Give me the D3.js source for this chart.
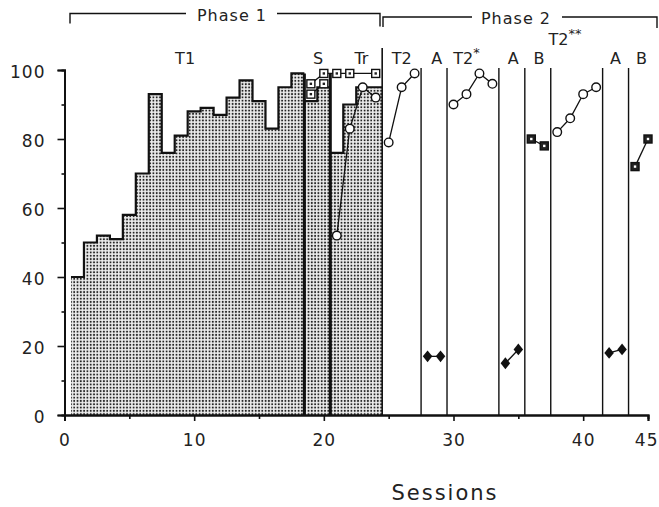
<!DOCTYPE html>
<html>
<head>
<meta charset="UTF-8">
<script src="https://d3js.org/d3.v7.min.js"></script>
<style>
  body { margin: 0; background: #fff; }
  svg text { font-family: "DejaVu Sans", sans-serif; fill: #222; }
</style>
</head>
<body>
<div id="chart"></div>
<script>
// stippled histogram, one bar per session
var t1Sessions = [1, 2, 3, 4, 5, 6, 7, 8, 9, 10, 11, 12, 13, 14, 15, 16, 17, 18];
var t1Values   = [40, 50, 52, 51, 58, 70, 93, 76, 81, 88, 89, 87, 92, 97, 91, 83, 95, 99];
var sSessions  = [19, 20];
var sValues    = [91, 95];
var trSessions = [21, 22, 23, 24];
var trValues   = [76, 90, 95, 95];

// marker series, split by condition
var circleRuns = [
  { x: [21, 22, 23, 24], y: [52, 83, 95, 92] },
  { x: [25, 26, 27], y: [79, 95, 99] },
  { x: [30, 31, 32, 33], y: [90, 93, 99, 96] },
  { x: [38, 39, 40, 41], y: [82, 86, 93, 95] }
];
var diamondRuns = [
  { x: [28, 29], y: [17, 17] },
  { x: [34, 35], y: [15, 19] },
  { x: [42, 43], y: [18, 19] }
];
var squareRuns = [
  { x: [19, 20, 21, 22, 24], y: [96, 99, 99, 99, 99], dark: false },
  { x: [19, 20], y: [93, 96], dark: false },
  { x: [36, 37], y: [80, 78], dark: true },
  { x: [44, 45], y: [72, 80], dark: true }
];

var thickLines = [18.5, 20.5];
var phaseLine = 24.5;
var condLines = [27.5, 29.5, 33.5, 35.5, 37.5, 41.5, 43.5];

var condNames = ["T1", "S", "Tr", "T2", "A", "T2", "A", "B", "T2", "A", "B"];
var condMarks = ["", "", "", "", "", "*", "", "", "**", "", ""];
var condAt    = [9.3, 19.55, 22.9, 26.0, 28.7, 31.0, 34.6, 36.6, 38.6, 42.5, 44.5];

var xTicks = [0, 10, 20, 30, 40, 45];
var xMinor = [5, 15, 25, 35];
var yTicks = [0, 20, 40, 60, 80, 100];
var yMinor = [10, 30, 50, 70, 90];

var width = 659, height = 507;
var svg = d3.select("#chart").append("svg")
  .attr("width", width).attr("height", height);

var x = d3.scaleLinear().domain([0, 45]).range([64.5, 648]);
var y = d3.scaleLinear().domain([0, 100]).range([415, 70]);

var defs = svg.append("defs");
var pat = defs.append("pattern").attr("id", "dots")
  .attr("patternUnits", "userSpaceOnUse")
  .attr("width", 3.3).attr("height", 3.3);
pat.append("rect").attr("width", 3.3).attr("height", 3.3).attr("fill", "#ececec");
pat.append("circle").attr("cx", 1.6).attr("cy", 1.6).attr("r", 1.0).attr("fill", "#222");

function stepPoints(sessions, values) {
  var pts = sessions.map(function (s, i) { return [Math.max(0, s - 0.5), values[i]]; });
  pts.push([sessions[sessions.length - 1] + 0.5, values[values.length - 1]]);
  return pts;
}

var area = d3.area().curve(d3.curveStepAfter)
  .x(function (d) { return x(d[0]); })
  .y0(y(0)).y1(function (d) { return y(d[1]); });
var stepLine = d3.line().curve(d3.curveStepAfter)
  .x(function (d) { return x(d[0]); })
  .y(function (d) { return y(d[1]); });

[[t1Sessions, t1Values], [sSessions, sValues], [trSessions, trValues]].forEach(function (b) {
  var pts = stepPoints(b[0], b[1]);
  svg.append("path").attr("d", area(pts)).attr("fill", "url(#dots)");
  svg.append("path").attr("d", stepLine(pts))
    .attr("fill", "none").attr("stroke", "#111").attr("stroke-width", 2.2);
});

// condition lines
thickLines.forEach(function (v) {
  svg.append("line").attr("x1", x(v)).attr("x2", x(v))
    .attr("y1", y(0)).attr("y2", y(99))
    .attr("stroke", "#111").attr("stroke-width", 3);
});
svg.append("line").attr("x1", x(phaseLine)).attr("x2", x(phaseLine))
  .attr("y1", y(0)).attr("y2", 48)
  .attr("stroke", "#111").attr("stroke-width", 1.6);
condLines.forEach(function (v) {
  svg.append("line").attr("x1", x(v)).attr("x2", x(v))
    .attr("y1", y(0)).attr("y2", 68)
    .attr("stroke", "#111").attr("stroke-width", 1.4);
});

function zipRun(r) { return r.x.map(function (v, i) { return [v, r.y[i]]; }); }
var link = d3.line().x(function (d) { return x(d[0]); }).y(function (d) { return y(d[1]); });

circleRuns.concat(diamondRuns).concat(squareRuns).forEach(function (r) {
  svg.append("path").attr("d", link(zipRun(r)))
    .attr("fill", "none").attr("stroke", "#111").attr("stroke-width", 1.3);
});

squareRuns.forEach(function (r) {
  var g = svg.append("g").selectAll("g").data(zipRun(r)).enter().append("g")
    .attr("transform", function (d) { return "translate(" + x(d[0]) + "," + y(d[1]) + ")"; });
  g.append("rect").attr("x", -4).attr("y", -4).attr("width", 8).attr("height", 8)
    .attr("fill", r.dark ? "#222" : "#fff").attr("stroke", "#111").attr("stroke-width", 1.4);
  g.append("rect").attr("x", -1.2).attr("y", -1.2).attr("width", 2.4).attr("height", 2.4)
    .attr("fill", r.dark ? "#fff" : "#222");
});

circleRuns.forEach(function (r) {
  svg.append("g").selectAll("circle").data(zipRun(r)).enter().append("circle")
    .attr("cx", function (d) { return x(d[0]); })
    .attr("cy", function (d) { return y(d[1]); })
    .attr("r", 4.3).attr("fill", "#fff").attr("stroke", "#111").attr("stroke-width", 1.4);
});

var diamond = d3.symbol().type(d3.symbolDiamond).size(40);
diamondRuns.forEach(function (r) {
  svg.append("g").selectAll("path").data(zipRun(r)).enter().append("path")
    .attr("d", diamond)
    .attr("transform", function (d) { return "translate(" + x(d[0]) + "," + y(d[1]) + ") scale(1.4,1)"; })
    .attr("fill", "#111");
});

// axes
var yAxis = svg.append("g").attr("transform", "translate(" + x(0) + ",0)")
  .call(d3.axisLeft(y).tickValues(yTicks).tickSize(7).tickPadding(12));
svg.append("g").attr("transform", "translate(" + x(0) + ",0)")
  .call(d3.axisLeft(y).tickValues(yMinor).tickSize(3).tickFormat(""));
var xAxis = svg.append("g").attr("transform", "translate(0," + y(0) + ")")
  .call(d3.axisBottom(x).tickValues(xTicks).tickSize(6).tickPadding(13));
svg.append("g").attr("transform", "translate(0," + y(0) + ")")
  .call(d3.axisBottom(x).tickValues(xMinor).tickSize(4).tickFormat(""));

svg.selectAll(".domain").attr("stroke", "#111").attr("stroke-width", 2);
svg.selectAll(".tick line").attr("stroke", "#111").attr("stroke-width", 1.6);
yAxis.selectAll("text").style("font-size", "17px").attr("dy", "0.42em").attr("letter-spacing", 1);
xAxis.selectAll("text").style("font-size", "17px").attr("letter-spacing", 1);
xAxis.selectAll(".tick").filter(function (d) { return d === 45; })
  .select("text").attr("text-anchor", "end").attr("x", 10);

svg.append("text").attr("x", 445).attr("y", 500)
  .attr("text-anchor", "middle").attr("letter-spacing", 2)
  .style("font-size", "21px").text("Sessions");

// phase brackets
function bracket(x0, x1, yl, drop0, drop1, gap0, gap1) {
  svg.append("path")
    .attr("d", "M" + x0 + "," + (yl + drop0) + "V" + yl + "H" + gap0 + "M" + gap1 + "," + yl + "H" + x1 + "V" + (yl + drop1))
    .attr("fill", "none").attr("stroke", "#111").attr("stroke-width", 1.4);
}
bracket(70, 380, 13.5, 10, 13, 186, 277);
bracket(383, 657, 17, 10, 11, 472, 562);
svg.append("text").attr("x", 232).attr("y", 21).attr("text-anchor", "middle")
  .attr("letter-spacing", 1).style("font-size", "16px").text("Phase 1");
svg.append("text").attr("x", 516).attr("y", 24).attr("text-anchor", "middle")
  .attr("letter-spacing", 1).style("font-size", "16px").text("Phase 2");

// condition labels
condNames.forEach(function (n, i) {
  var t = svg.append("text").attr("x", x(condAt[i]))
    .attr("y", condMarks[i] === "**" ? 45 : 64)
    .attr("text-anchor", "middle").style("font-size", "16px");
  t.append("tspan").text(n);
  if (condMarks[i]) {
    t.append("tspan").attr("dy", -7).style("font-size", "13px").text(condMarks[i]);
  }
});
</script>
</body>
</html>
